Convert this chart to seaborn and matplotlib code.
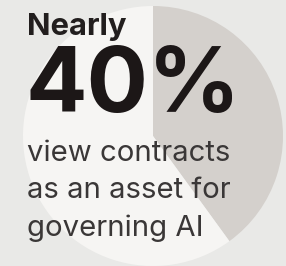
import matplotlib
matplotlib.use("Agg")
import matplotlib.pyplot as plt
import seaborn as sns

# Data
labels = ["View contracts as an asset", "Other"]
shares = [40, 60]
colors = ["#d4d0cc", "#f6f5f3"]

headline_top = "Nearly"
headline_big = "40%"
body_lines = ["view contracts", "as an asset for", "governing AI"]

sns.set_theme(style="white")
plt.rcParams["font.family"] = ["Inter", "DejaVu Sans"]

W, H = 286, 266
fig = plt.figure(figsize=(W / 100, H / 100), dpi=100)
fig.patch.set_facecolor("#e9e9e7")

# pie centred at (153,136) px, radius 130 px
cx, cy, r = 153, 136, 130
ax = fig.add_axes([(cx - r) / W, (H - cy - r) / H, 2 * r / W, 2 * r / H])
ax.pie(shares, colors=colors, startangle=90, counterclock=False,
       radius=1, wedgeprops=dict(linewidth=0))
ax.set_xlim(-1, 1)
ax.set_ylim(-1, 1)
ax.set_aspect("auto")
ax.axis("off")


def px(x, y):
    return x / W, 1 - y / H


fig.text(*px(27, 35), headline_top, fontsize=31 * 0.72, fontweight="bold",
         color="#221e1e", va="baseline", ha="left")
fig.text(*px(26, 112), headline_big, fontsize=91 * 0.72, fontweight="bold",
         color="#1c1717", va="baseline", ha="left")
for i, line in enumerate(body_lines):
    fig.text(*px(27, 161 + i * 37.5), line, fontsize=29.3 * 0.72,
             color="#3a3737", va="baseline", ha="left")

fig.savefig("out.png", dpi=100, facecolor=fig.get_facecolor())
